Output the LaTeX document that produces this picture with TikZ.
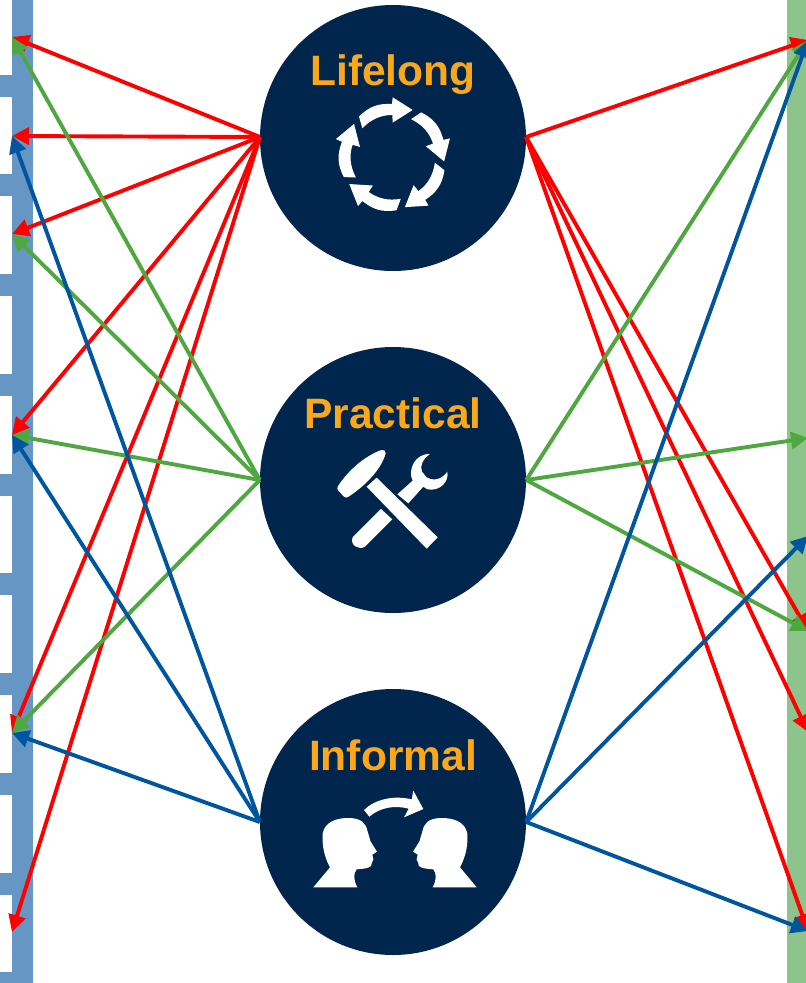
\documentclass[tikz,border=0pt]{standalone}
\usepackage{fontspec}
\setmainfont{Liberation Sans}
\usetikzlibrary{arrows.meta}
\definecolor{navy}{HTML}{00264D}
\definecolor{gold}{HTML}{F9A81C}
\definecolor{barblue}{HTML}{6596C4}
\definecolor{bargreen}{HTML}{8DC48B}
\definecolor{lred}{HTML}{FF0000}
\definecolor{lgreen}{HTML}{4EA83F}
\definecolor{lblue}{HTML}{00559F}
\tikzset{
  hub/.style={circle,fill=navy,minimum size=266pt,inner sep=0pt},
  hubtext/.style={text=gold,font=\fontsize{42.5}{42.5}\selectfont\bfseries,inner sep=0pt,anchor=base},
  link/.style={line width=3.9pt,-{Triangle[length=17pt,width=17pt]}},
  redlink/.style={link,draw=lred},
  greenlink/.style={link,draw=lgreen},
  bluelink/.style={link,draw=lblue},
  zoomed/.style={x=0.3333pt,y=-0.3333pt}
}
\newcommand{\cyclearrow}[1]{%
  \fill[white,rotate=#1] (-102,-122) .. controls (-70,-155) and (-40,-162) .. (-3,-160)
    -- (-1,-180) -- (59,-142) -- (-1,-104) -- (-2,-127)
    .. controls (-35,-127) and (-65,-115) .. (-92,-87) -- cycle;}
\newcommand{\headshape}{%
  \fill[white] (40,322) -- (90,262) .. controls (70,225) and (66,190) .. (68,160)
    .. controls (75,125) and (110,113) .. (150,114) .. controls (185,116) and (198,130) .. (203,155)
    -- (212,185) -- (231,215) -- (217,224) -- (220,238) -- (215,250) .. controls (218,262) and (200,266) .. (170,268)
    .. controls (160,280) and (160,300) .. (172,322) -- cycle;}
\begin{document}
\begin{tikzpicture}[x=1pt,y=-1pt]
\useasboundingbox (0,0) rectangle (806,983);
\clip (0,0) rectangle (806,983);
\fill[white] (0,0) rectangle (806,983);
% bars
\fill[barblue] (12,0) rectangle (33,983);
\foreach \y in {75,174,274,374,474,573,673,773,873,972}
  \fill[barblue] (0,\y) rectangle (12,\y+22);
\fill[bargreen] (787,0) rectangle (806,983);
% hubs
\node[hub] (life) at (393,138) {};
\node[hub] (prac) at (393,480) {};
\node[hub] (info) at (393,822) {};
\node[hubtext] (lifet) at (393,85) {Lifelong};
\node[hubtext] (pract) at (393,428) {Practical};
\node[hubtext] (infot) at (393,770) {Informal};
% end points
\coordinate (L1) at (12,37);
\coordinate (L2) at (12,136);
\coordinate (L3) at (12,234);
\coordinate (L4) at (12,435);
\coordinate (L5) at (12,733);
\coordinate (L6) at (12,932);
\coordinate (R1) at (808,40);
\coordinate (R2) at (808,438);
\coordinate (R3) at (808,536);
\coordinate (R4) at (808,631);
\coordinate (R5) at (808,732);
\coordinate (R6) at (808,931);
\coordinate (LW) at (260,137);
\coordinate (LE) at (526,137);
% left links
\foreach \e in {L1,L2,L3,L4,L5,L6} \draw[redlink] (LW) -- (\e);
\foreach \e in {L1,L3,L4,L5} \draw[greenlink] (prac.west) -- (\e);
\foreach \e in {L2,L4,L5} \draw[bluelink] (info.west) -- (\e);
% right links
\foreach \e in {R1,R4,R5,R6} \draw[redlink] (LE) -- (\e);
\foreach \e in {R1,R2,R4} \draw[greenlink] (prac.east) -- (\e);
\foreach \e in {R1,R3,R6} \draw[bluelink] (info.east) -- (\e);
% cycle icon
\begin{scope}[shift={(393,157.3)},zoomed]
  \cyclearrow{0}\cyclearrow{72}\cyclearrow{144}\cyclearrow{216}\cyclearrow{288}
\end{scope}
% tools icon
\begin{scope}[shift={(320,440)},zoomed]
  \fill[white] (53,140) .. controls (85,90) and (135,48) .. (184,30)
    .. controls (192,28) and (198,33) .. (197,40) .. controls (185,85) and (140,135) .. (84,171)
    .. controls (80,174) and (76,173) .. (72,170) -- (56,153) .. controls (52,149) and (51,144) .. (53,140) -- cycle;
  \fill[white] (140,140) -- (170,113) -- (353,292) -- (320,326) -- cycle;
  \fill[white] (183,207) -- (217,238) -- (135,320) .. controls (118,332) and (88,315) .. (98,292) -- cycle;
  \fill[white] (232,163) -- (278,122) .. controls (262,90) and (285,40) .. (330,42)
    .. controls (310,55) and (298,78) .. (306,95) -- (320,112)
    .. controls (345,126) and (368,115) .. (382,95) .. controls (388,125) and (360,155) .. (322,148)
    -- (310,140) -- (265,190) -- cycle;
\end{scope}
% people icon
\begin{scope}[shift={(300,780)},zoomed]
  \headshape
  \begin{scope}[shift={(570,0)},xscale=-1]
    \headshape
  \end{scope}
  \fill[white] (192,90) .. controls (225,58) and (280,45) .. (335,58) -- (340,32) -- (370,87) -- (312,112) -- (326,86)
    .. controls (285,75) and (240,82) .. (208,110) -- cycle;
\end{scope}
\end{tikzpicture}
\end{document}
